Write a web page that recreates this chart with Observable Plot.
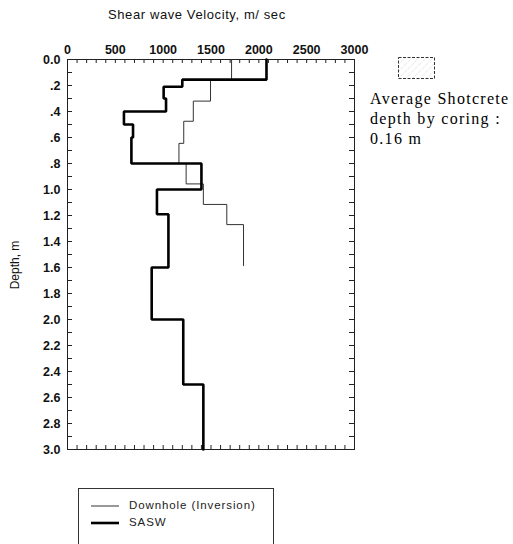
<!DOCTYPE html>
<html><head><meta charset="utf-8">
<script src="https://cdn.jsdelivr.net/npm/d3@7"></script>
<script src="https://cdn.jsdelivr.net/npm/@observablehq/plot@0.6"></script>
<style>
body{margin:0;background:#fff;}
#wrap{position:relative;width:513px;height:544px;overflow:hidden;font-family:"Liberation Sans",Arial,sans-serif;color:#111;}
.abs{position:absolute;white-space:nowrap;}
</style></head><body><div id="wrap"></div>
<script>
// SASW profile: layer top depths (m) and shear wave velocities (m/s)
const saswTops = [0, 0.155, 0.21, 0.30, 0.40, 0.50, 0.60, 0.80, 1.00, 1.19, 1.60, 2.00, 2.50];
const saswVel  = [2080, 1200, 1005, 1030, 590, 685, 668, 1400, 935, 1055, 880, 1210, 1420];
const saswEnd = 3.0;
// Downhole (Inversion) profile
const downTops = [0, 0.155, 0.32, 0.475, 0.645, 0.80, 0.957, 1.115, 1.27];
const downVel  = [1715, 1495, 1315, 1215, 1165, 1240, 1420, 1665, 1840];
const downEnd = 1.585;
// axis ticks
const xTickValues = [0, 500, 1000, 1500, 2000, 2500, 3000];
const xTickLabels = ["0", "500", "1000", "1500", "2000", "2500", "3000"];
const yTickValues = [0, 0.2, 0.4, 0.6, 0.8, 1.0, 1.2, 1.4, 1.6, 1.8, 2.0, 2.2, 2.4, 2.6, 2.8, 3.0];
const yTickLabels = ["0.0", ".2", ".4", ".6", ".8", "1.0", "1.2", "1.4", "1.6", "1.8", "2.0", "2.2", "2.4", "2.6", "2.8", "3.0"];
const xMinor = d3.range(100, 3000, 100);
const yMinor = d3.range(1, 30).map(i => i / 10);

function steps(tops, vals, end) {
  const pts = [];
  tops.forEach((t, i) => {
    const b = i < tops.length - 1 ? tops[i + 1] : end;
    pts.push({v: vals[i], d: t}, {v: vals[i], d: b});
  });
  return pts;
}
const sasw = steps(saswTops, saswVel, saswEnd);
const down = steps(downTops, downVel, downEnd);

const W = 513, H = 544, mL = 67, mR = 159, mT = 59, mB = 95;
const fw = W - mL - mR, fh = H - mT - mB;

const chart = Plot.plot({
  width: W, height: H,
  marginLeft: mL, marginRight: mR, marginTop: mT, marginBottom: mB,
  style: {fontFamily: "'Liberation Sans', Arial, sans-serif", background: "white", color: "#111"},
  x: {domain: [0, 3000]},
  y: {domain: [0, 3], reverse: true},
  marks: [
    Plot.frame({stroke: "#222", strokeWidth: 1}),
    Plot.ruleX(xMinor, {x: d => d, insetBottom: fh - 4, stroke: "#222"}),
    Plot.ruleX(xMinor, {x: d => d, insetTop: fh - 4, stroke: "#222"}),
    Plot.ruleY(yMinor, {y: d => d, insetRight: fw - 5, stroke: "#222"}),
    Plot.ruleY(yMinor, {y: d => d, insetLeft: fw - 5, stroke: "#222"}),
    Plot.axisX(xTickValues, {anchor: "top", tickSize: 0, tickPadding: 6, label: null, fontSize: 12.5, fontWeight: "bold",
      tickFormat: d => xTickLabels[xTickValues.indexOf(d)]}),
    Plot.axisY(yTickValues, {anchor: "left", tickSize: 0, tickPadding: 7, label: null, fontSize: 12.5, fontWeight: "bold",
      tickFormat: d => yTickLabels[yTickValues.indexOf(d)]}),
    Plot.line(down, {x: "v", y: "d", stroke: "#333", strokeWidth: 1}),
    Plot.line(sasw, {x: "v", y: "d", stroke: "#000", strokeWidth: 2.6, strokeLinejoin: "miter"})
  ]
});
const wrap = document.getElementById("wrap");
chart.style.position = "absolute";
chart.style.left = "0px";
chart.style.top = "0px";
wrap.appendChild(chart);

function addDiv(html, css) {
  const d = document.createElement("div");
  d.className = "abs";
  d.innerHTML = html;
  Object.assign(d.style, css);
  wrap.appendChild(d);
  return d;
}
// title
addDiv("Shear wave Velocity, m/ sec", {left: "108px", top: "7px", fontSize: "13px", lineHeight: "15px", letterSpacing: "0.6px"});
// y label
addDiv("Depth, m", {left: "-10px", top: "258px", fontSize: "12px", lineHeight: "14px", width: "50px", textAlign: "center", transform: "rotate(-90deg)"});
// shotcrete annotation
addDiv(`<svg width="38" height="23"><defs><pattern id="hp" width="5" height="5" patternUnits="userSpaceOnUse" patternTransform="rotate(45)"><line x1="0" y1="0" x2="0" y2="5" stroke="#bbb" stroke-width="0.7" stroke-dasharray="1.5 1.5"/></pattern></defs><rect x="0.5" y="0.5" width="36" height="21" fill="url(#hp)" stroke="#333" stroke-width="1" stroke-dasharray="3 1.5"/></svg>`,
  {left: "398px", top: "57px", lineHeight: "0"});
addDiv("Average Shotcrete<br>depth by coring :<br>0.16 m", {left: "370px", top: "89px", fontFamily: "'Liberation Serif', 'Times New Roman', serif", fontSize: "16px", lineHeight: "20px", letterSpacing: "1.3px", color: "#000"});
// legend
const leg = addDiv(`<div style="position:absolute;left:12px;top:10px;display:flex;align-items:center;"><svg width="28" height="8"><line x1="0" y1="4" x2="28" y2="4" stroke="#333" stroke-width="1"/></svg><span style="margin-left:10px">Downhole (Inversion)</span></div>
<div style="position:absolute;left:12px;top:27px;display:flex;align-items:center;"><svg width="28" height="8"><line x1="0" y1="4" x2="28" y2="4" stroke="#000" stroke-width="2.6"/></svg><span style="margin-left:10px">SASW</span></div>`,
  {left: "78px", top: "488px", width: "194px", height: "80px", border: "1px solid #333", fontSize: "11.5px", lineHeight: "13px", letterSpacing: "0.9px", color: "#222"});
</script>
</body></html>
